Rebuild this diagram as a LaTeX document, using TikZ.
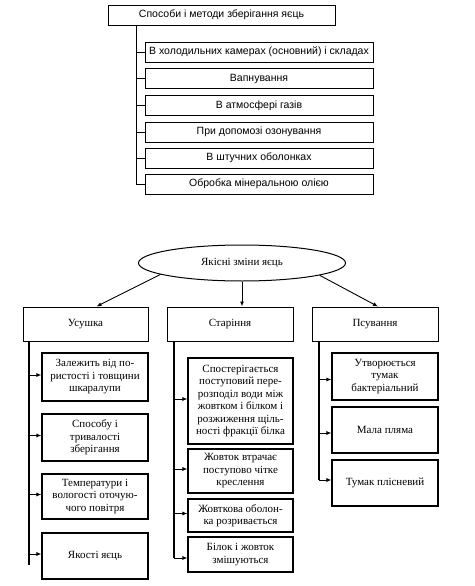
\documentclass[tikz,border=0pt]{standalone}
\usepackage{fontspec}
\setmainfont{Liberation Serif}
\newfontfamily\arialf{Liberation Sans}
\newfontfamily\timesf{Liberation Serif}
\usetikzlibrary{shapes.geometric,arrows.meta}
\begin{document}
\begin{tikzpicture}[x=1pt,y=-1pt,
 topbox/.style={draw, line width=0.8pt, inner sep=0pt, font=\arialf\fontsize{10.5}{12}\selectfont},
 tsub/.style={topbox, minimum width=228pt, minimum height=20pt},
 lvl/.style={draw, line width=1pt, inner sep=0pt, minimum height=34pt, minimum width=126pt, font=\timesf\fontsize{11}{12.5}\selectfont},
 sbox/.style={draw, line width=1.1pt, inner sep=0pt, align=center, font=\timesf\fontsize{11}{12.5}\selectfont},
 conn/.style={line width=0.8pt},
 vline/.style={line width=1.2pt},
 arr/.style={line width=0.9pt, -{Latex[length=5pt,width=4pt]}}]
\useasboundingbox (0,0) rectangle (474,586);
\fill[white] (0,0) rectangle (474,586);

% ---- top part ----
\node[topbox, minimum width=227pt, minimum height=20pt] (T) at (221.5,15) {Способи і методи зберігання яєць};
\node[tsub] (t1) at (259,52) {В холодильних камерах (основний) і складах};
\node[tsub] (t2) at (259,78.5) {Вапнування};
\node[tsub] (t3) at (259,105.5) {В атмосфері газів};
\node[tsub] (t4) at (259,132) {При допомозі озонування};
\node[tsub] (t5) at (259,158) {В штучних оболонках};
\node[tsub] (t6) at (259,184) {Обробка мінеральною олією};
\coordinate (tl) at (136,25);
\draw[conn] (tl) |- (t6.west);
\foreach \i in {1,...,5} \draw[conn] (tl |- t\i.west) -- (t\i.west);

% ---- bottom part ----
\node[ellipse, draw, line width=1pt, minimum width=207pt, minimum height=36pt, inner sep=0pt, font=\timesf\fontsize{11}{12.5}\selectfont] (E) at (242,263) {Якісні зміни яєць};
\node[lvl, minimum width=125pt] (U) at (85.5,324) {Усушка};
\node[lvl] (S) at (230,324) {Старіння};
\node[lvl] (P) at (375,324) {Псування};
\draw[arr] (E.188) -- ([xshift=11pt]U.north);
\draw[arr] (E.south) -- (E.south |- S.north);
\draw[arr] (E.351) -- ([xshift=3pt]P.north);

% Усушка
\node[sbox, minimum width=106pt, minimum height=48pt] (u1) at (95,377) {Залежить від по-\\ристості і товщини\\шкаралупи};
\node[sbox, minimum width=106pt, minimum height=47pt] (u2) at (95,437.5) {Способу і\\тривалості\\зберігання};
\node[sbox, minimum width=106pt, minimum height=45pt] (u3) at (95,496.5) {Температури і\\вологості оточую-\\чого повітря};
\node[sbox, minimum width=106pt, minimum height=46pt] (u4) at (95,556) {Якості яєць};
\coordinate (ul) at (29,341);
\coordinate (ue) at (29,565);
\draw[vline] (ul) -- (ue);
\foreach \i in {1,...,4} \draw[arr] ([yshift=2pt]ul |- u\i.west) -- ([yshift=2pt]u\i.west);

% Старіння
\node[sbox, minimum width=105pt, minimum height=86pt] (s1) at (240.5,401) {Спостерігається\\поступовий пере-\\розподіл води між\\жовтком і білком і\\розжиження щіль-\\ності фракції білка};
\node[sbox, minimum width=105pt, minimum height=44pt] (s2) at (240.5,471) {Жовток втрачає\\поступово чітке\\креслення};
\node[sbox, minimum width=105pt, minimum height=33pt] (s3) at (240.5,515.5) {Жовткова оболон-\\ка розривається};
\node[sbox, minimum width=105pt, minimum height=35pt] (s4) at (240.5,554.5) {Білок і жовток\\змішуються};
\coordinate (sl) at (174,341);
\coordinate (se) at (174,558);
\draw[vline] (sl) -- (se);
\foreach \i in {1,...,3} \draw[arr] ([yshift=2pt]sl |- s\i.west) -- ([yshift=2pt]s\i.west);
\draw[arr] (se) -- (se -| s4.west);

% Псування
\node[sbox, minimum width=106pt, minimum height=47pt] (p1) at (385,376.5) {Утворюється\\тумак\\бактеріальний};
\node[sbox, minimum width=106pt, minimum height=46pt] (p2) at (385,430) {Мала пляма};
\node[sbox, minimum width=106pt, minimum height=46pt] (p3) at (385,483) {Тумак плісневий};
\coordinate (pl) at (319,341);
\coordinate (pe) at (319,480);
\draw[vline] (pl) -- (pe);
\foreach \i in {1,...,2} \draw[arr] ([yshift=-3pt]pl |- p\i.west) -- ([yshift=-3pt]p\i.west);
\draw[arr] (pe) -- (pe -| p3.west);
\end{tikzpicture}
\end{document}
